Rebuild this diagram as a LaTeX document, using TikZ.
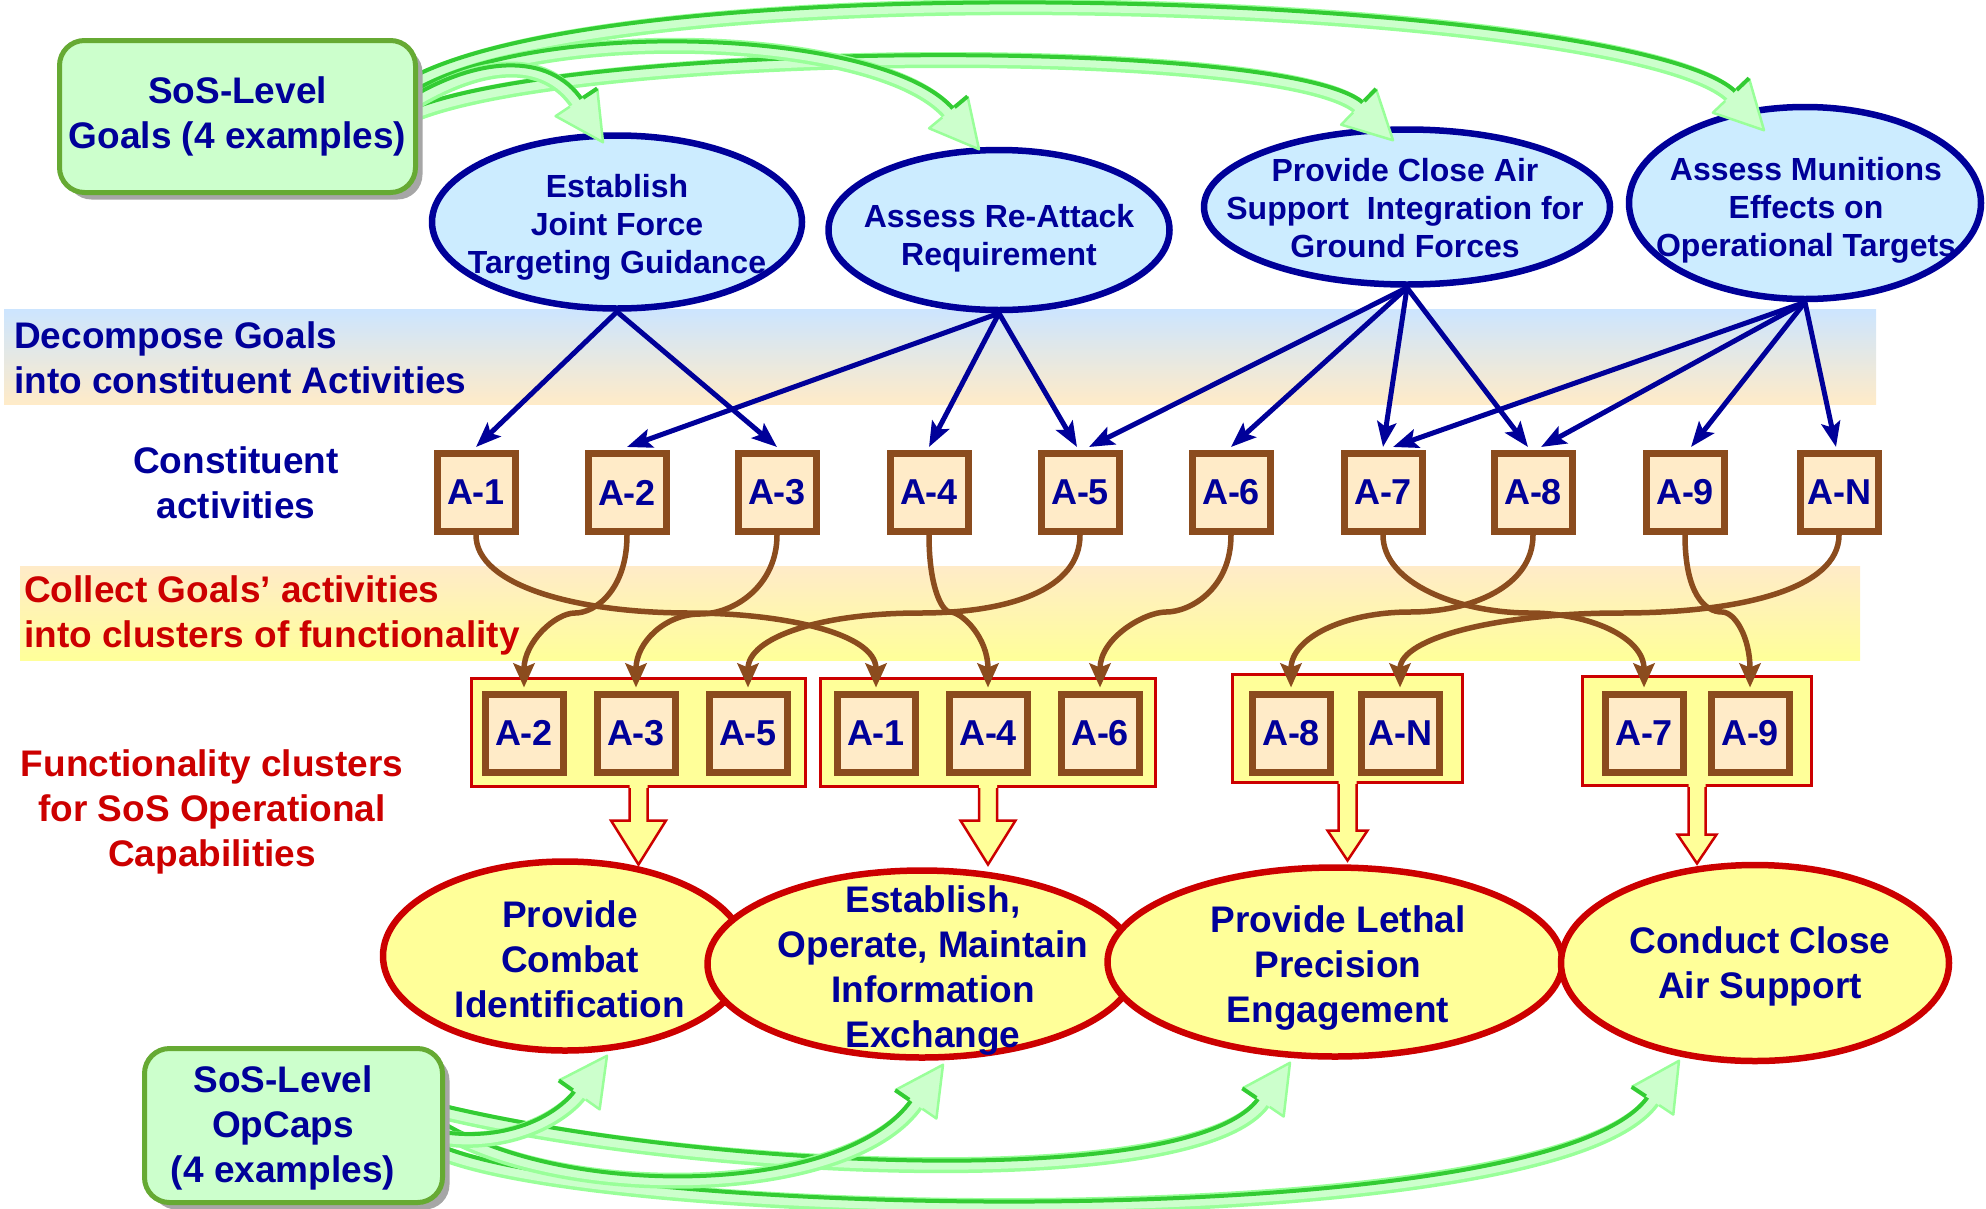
\documentclass[tikz,border=0pt]{standalone}
\usepackage{fontspec}
\setmainfont{Liberation Sans}
\usetikzlibrary{shapes.geometric,arrows.meta,calc,shadows}

\definecolor{inkblue}{HTML}{000099}
\definecolor{inkred}{HTML}{CC0000}
\definecolor{goalfill}{HTML}{CCECFF}
\definecolor{capfill}{HTML}{FFFF99}
\definecolor{actfill}{HTML}{FFEBC8}
\definecolor{actline}{HTML}{8B4C1E}
\definecolor{boxfill}{HTML}{CCFFCC}
\definecolor{boxline}{HTML}{66AA33}
\definecolor{ribdark}{HTML}{33CC33}
\definecolor{ribfill}{HTML}{CCFFCC}
\definecolor{ribedge}{HTML}{99FF99}
\definecolor{bandblue}{HTML}{CCE5FF}
\definecolor{bandpeach}{HTML}{FFEBC8}
\definecolor{bandyellow}{HTML}{FFFF99}
\definecolor{shadowgray}{HTML}{A6A6A6}

\newcommand\lblfont{\fontsize{37}{45}\selectfont\bfseries}
\newcommand\glfont{\fontsize{32}{38}\selectfont\bfseries}
\newcommand\acfont{\fontsize{36}{40}\selectfont\bfseries}

% wide green ribbon arrow: start, control 1, control 2, tip
\newcommand\greenribbon[4]{%
  \coordinate (rb-base) at ($(#4)!48pt!(#3)$);
  \coordinate (rb-left) at ($(rb-base)!25pt!90:(#4)$);
  \coordinate (rb-right) at ($(rb-base)!25pt!-90:(#4)$);
  \coordinate (rb-edgel) at ($(rb-base)!8pt!90:(#4)$);
  \coordinate (rb-edger) at ($(rb-base)!8pt!-90:(#4)$);
  \coordinate (rb-p0) at ($(#1)!6pt!90:(#2)$);
  \coordinate (rb-c1) at ($(#2)!6pt!-90:(#1)$);
  \coordinate (rb-c2) at ($(#3)!6pt!90:(#4)$);
  \coordinate (rb-p3) at ($(#4)!6pt!-90:(#3)$);
  \draw[ribedge, line width=16pt, shorten >=46pt] (#1) .. controls (#2) and (#3) .. (#4);
  \draw[ribfill, line width=9pt, shorten >=46pt] (#1) .. controls (#2) and (#3) .. (#4);
  \draw[ribdark, line width=4pt, shorten >=46pt] (rb-p0) .. controls (rb-c1) and (rb-c2) .. (rb-p3);
  \fill[ribfill] (rb-left) -- (#4) -- (rb-right) -- cycle;
  \draw[ribedge, line width=2.5pt, line join=round] (rb-edger) -- (rb-right) -- (#4) -- (rb-left);
  \draw[ribdark, line width=4pt] (rb-left) -- (rb-edgel);
}

% hollow block arrow below a cluster: node, shaft half width, shaft length, head half width, head length
\newcommand\blockarrow[5]{%
  \fill[capfill] ($(#1.south)+(-#2,-3)$) -- ++(0,#3+3) -- ++(#2-#4,0) -- ++(#4,#5)
    -- ++(#4,-#5) -- ++(#2-#4,0) -- ++(0,-#3-3) -- cycle;
  \draw[draw=inkred, line width=2.5pt, line join=miter] ($(#1.south)+(-#2,0)$) -- ++(0,#3)
    -- ++(#2-#4,0) -- ++(#4,#5) -- ++(#4,-#5) -- ++(#2-#4,0) -- ++(0,-#3);
}

\tikzset{
  goal/.style={ellipse, draw=inkblue, line width=6.5pt, fill=goalfill, inner sep=0pt},
  opcap/.style={ellipse, draw=inkred, line width=6.5pt, fill=capfill, inner sep=0pt},
  gtext/.style={align=center, text=inkblue, font=\glfont, inner sep=0pt},
  ctext/.style={align=center, text=inkblue, font=\lblfont, inner sep=0pt},
  actbox/.style={rectangle, draw=actline, line width=7pt, fill=actfill,
    minimum width=78pt, minimum height=78pt, inner sep=0pt, text=inkblue, font=\acfont},
  cluster/.style={rectangle, draw=inkred, line width=3pt, fill=capfill, inner sep=0pt},
  greenbox/.style={rectangle, rounded corners=25pt, draw=boxline, line width=5pt,
    fill=boxfill, inner sep=0pt,
    drop shadow={shadow xshift=7pt, shadow yshift=-7pt, fill=shadowgray, opacity=1}},
  decomp/.style={draw=inkblue, line width=5pt, -{Stealth[length=25pt, width=19pt, inset=5pt]}},
  collect/.style={draw=actline, line width=5.5pt, -{Stealth[length=24pt, width=21pt, inset=4pt]}},
}

\begin{document}
\begin{tikzpicture}[x=1pt,y=-1pt]
\useasboundingbox (0,0) rectangle (1986,1208);

% background bands
\shade[top color=bandblue, bottom color=bandpeach] (4,309) rectangle (1876,404);
\shade[top color=bandpeach, bottom color=bandyellow] (20,566) rectangle (1860,660);

% side labels
\node[anchor=west, align=left, font=\lblfont, text=inkblue, inner sep=0pt] (lbl-decomp) at (14,357.5)
  {Decompose Goals\\into constituent Activities};
\node[ctext] (lbl-const) at (236,483) {Constituent\\activities};
\node[anchor=west, align=left, font=\lblfont, text=inkred, inner sep=0pt] (lbl-collect) at (24,615)
  {Collect Goals’ activities\\into clusters of functionality};
\node[align=center, font=\lblfont, text=inkred, inner sep=0pt] (lbl-func) at (212,812)
  {Functionality clusters\\for SoS Operational\\Capabilities};

% SoS-level goals
\node[goal, minimum width=370pt, minimum height=173pt] (g1) at (617,222) {};
\node[gtext] (g1t) at (617,227.5) {Establish\\Joint Force\\Targeting Guidance};
\node[goal, minimum width=341pt, minimum height=160pt] (g2) at (999,230) {};
\node[gtext] (g2t) at (999,238) {Assess Re-Attack\\Requirement};
\node[goal, minimum width=406pt, minimum height=155pt] (g3) at (1407,207) {};
\node[gtext] (g3t) at (1405,208.5) {Provide Close Air\\Support~ Integration for\\Ground Forces};
\node[goal, minimum width=352pt, minimum height=192pt] (g4) at (1805,203) {};
\node[gtext] (g4t) at (1806,210) {Assess Munitions\\Effects on\\Operational Targets};

% constituent activities
\foreach \n/\x in {1/476,2/627,3/777,4/929,5/1080,6/1231,7/1383,8/1533,9/1685,N/1839}
  \node[actbox] (ta\n) at (\x,492.5) {A-\n};

% decomposition of goals into activities
\draw[decomp] (g1.south) -- ([yshift=3pt]ta1.north);
\draw[decomp] (g1.south) -- ([yshift=3pt]ta3.north);
\draw[decomp] (g2.south) -- ([yshift=3pt]ta2.north);
\draw[decomp] (g2.south) -- ([yshift=3pt]ta4.north);
\draw[decomp] (g2.south) -- ([xshift=-3pt,yshift=3pt]ta5.north);
\draw[decomp] (g3.south) -- ([xshift=9pt,yshift=3pt]ta5.north);
\draw[decomp] (g3.south) -- ([yshift=3pt]ta6.north);
\draw[decomp] (g3.south) -- ([yshift=3pt]ta7.north);
\draw[decomp] (g3.south) -- ([xshift=-5pt,yshift=3pt]ta8.north);
\draw[decomp] (g4.south) -- ([xshift=10pt,yshift=3pt]ta7.north);
\draw[decomp] (g4.south) -- ([xshift=8pt,yshift=3pt]ta8.north);
\draw[decomp] (g4.south) -- ([xshift=6pt,yshift=3pt]ta9.north);
\draw[decomp] (g4.south) -- ([xshift=-3pt,yshift=3pt]taN.north);

% functionality clusters
\node[cluster, minimum width=334pt, minimum height=108pt] (cl1) at (638.5,732.5) {};
\node[cluster, minimum width=335pt, minimum height=108pt] (cl2) at (988,732.5) {};
\node[cluster, minimum width=230pt, minimum height=108pt] (cl3) at (1347.5,728.5) {};
\node[cluster, minimum width=229pt, minimum height=109pt] (cl4) at (1697,731) {};
\foreach \n/\x in {2/524,3/636,5/748,1/876,4/988,6/1100,8/1291,N/1400,7/1644,9/1750}
  \node[actbox] (ca\n) at (\x,733) {A-\n};

% collecting activities into clusters
\draw[collect] (ta1.south) .. controls +(0,50) and +(-115,0) .. (690,613)
  .. controls +(90,0) and +(0,-55) .. ([yshift=3pt]ca1.north);
\draw[collect] (ta2.south) .. controls +(0,55) and +(20,0) .. (575,613)
  .. controls +(-20,0) and +(0,-45) .. ([yshift=3pt]ca2.north);
\draw[collect] (ta3.south) .. controls +(0,50) and +(35,0) .. (700,614)
  .. controls +(-35,0) and +(0,-45) .. ([yshift=3pt]ca3.north);
\draw[collect] (ta4.south) .. controls +(0,55) and +(-7,0) .. (950,612)
  .. controls +(12,0) and +(0,-50) .. ([yshift=3pt]ca4.north);
\draw[collect] (ta5.south) .. controls +(0,54) and +(90,0) .. (920,613)
  .. controls +(-100,0) and +(0,-50) .. ([yshift=3pt]ca5.north);
\draw[collect] (ta6.south) .. controls +(0,54) and +(24,0) .. (1166,612)
  .. controls +(-21,0) and +(0,-50) .. ([yshift=3pt]ca6.north);
\draw[collect] (ta7.south) .. controls +(0,49) and +(-70,0) .. (1530,613)
  .. controls +(60,0) and +(0,-50) .. ([yshift=3pt]ca7.north);
\draw[collect] (ta8.south) .. controls +(0,52) and +(60,0) .. (1410,612)
  .. controls +(-65,0) and +(0,-50) .. ([yshift=3pt]ca8.north);
\draw[collect] (ta9.south) .. controls +(0,59) and +(-17,0) .. (1722,612)
  .. controls +(13,0) and +(0,-50) .. ([yshift=3pt]ca9.north);
\draw[collect] (taN.south) .. controls +(0,54) and +(120,0) .. (1620,613)
  .. controls +(-120,0) and +(0,-50) .. ([yshift=3pt]caN.north);

% clusters feed the operational capabilities
\blockarrow{cl1}{9}{32.5}{27.5}{44}
\blockarrow{cl2}{9}{32.5}{27.5}{44}
\blockarrow{cl3}{9}{46.5}{20}{30}
\blockarrow{cl4}{8.5}{47.5}{19.5}{29}

% SoS operational capabilities
\node[opcap, minimum width=364pt, minimum height=189pt] (b1) at (565,956) {};
\node[ctext] (b1t) at (570,959) {Provide\\Combat\\Identification};
\node[opcap, minimum width=429pt, minimum height=187pt] (b2) at (922,964) {};
\node[ctext] (b2t) at (933,970.5) {Establish,\\Operate, Maintain\\Information\\Exchange};
\node[opcap, minimum width=455pt, minimum height=189pt] (b3) at (1335,962) {};
\node[ctext] (b3t) at (1338,968) {Provide Lethal\\Precision\\Engagement};
\node[opcap, minimum width=388pt, minimum height=196pt] (b4) at (1755,963) {};
\node[ctext] (b4t) at (1760,966.75) {Conduct Close\\Air Support};

% goals box with its ribbons
\coordinate (r4s) at (405,88);   \coordinate (r4a) at (620,-40);  \coordinate (r4b) at (1640,0);
\coordinate (r4e) at ($(g4.north)+(-41,26.5)$);
\coordinate (r3s) at (405,118);  \coordinate (r3a) at (560,45);   \coordinate (r3b) at (1290,40);
\coordinate (r3e) at ($(g3.north)+(-14,14)$);
\coordinate (r2s) at (405,104);  \coordinate (r2a) at (520,20);   \coordinate (r2b) at (880,30);
\coordinate (r2e) at ($(g2.north)+(-20,2.5)$);
\coordinate (r1s) at (405,108);  \coordinate (r1a) at (480,60);   \coordinate (r1b) at (545,55);
\coordinate (r1e) at ($(g1.north)+(-14,10)$);
\greenribbon{r4s}{r4a}{r4b}{r4e}
\greenribbon{r3s}{r3a}{r3b}{r3e}
\greenribbon{r2s}{r2a}{r2b}{r2e}
\greenribbon{r1s}{r1a}{r1b}{r1e}
\node[greenbox, minimum width=356pt, minimum height=152pt, align=center, font=\lblfont, text=inkblue]
  (goals) at (237.5,116.5) {SoS-Level\\Goals (4 examples)};

% opcaps box with its ribbons
\coordinate (s4s) at (435,1150); \coordinate (s4a) at (600,1225); \coordinate (s4b) at (1560,1240);
\coordinate (s4e) at ($(b4.south)+(-76,-3.5)$);
\coordinate (s3s) at (435,1110); \coordinate (s3a) at (700,1175); \coordinate (s3b) at (1200,1195);
\coordinate (s3e) at ($(b3.south)+(-45,3)$);
\coordinate (s2s) at (435,1125); \coordinate (s2a) at (560,1205); \coordinate (s2b) at (850,1200);
\coordinate (s2e) at ($(b2.south)+(21,4)$);
\coordinate (s1s) at (435,1137); \coordinate (s1a) at (510,1150); \coordinate (s1b) at (565,1115);
\coordinate (s1e) at ($(b1.south)+(42,2)$);
\greenribbon{s4s}{s4a}{s4b}{s4e}
\greenribbon{s3s}{s3a}{s3b}{s3e}
\greenribbon{s2s}{s2a}{s2b}{s2e}
\greenribbon{s1s}{s1a}{s1b}{s1e}
\node[greenbox, minimum width=298pt, minimum height=154pt] (opcaps) at (293.5,1125.5) {};
\node[ctext] (opcapst) at (283,1128) {SoS-Level\\OpCaps\\(4 examples)};

\end{tikzpicture}
\end{document}
